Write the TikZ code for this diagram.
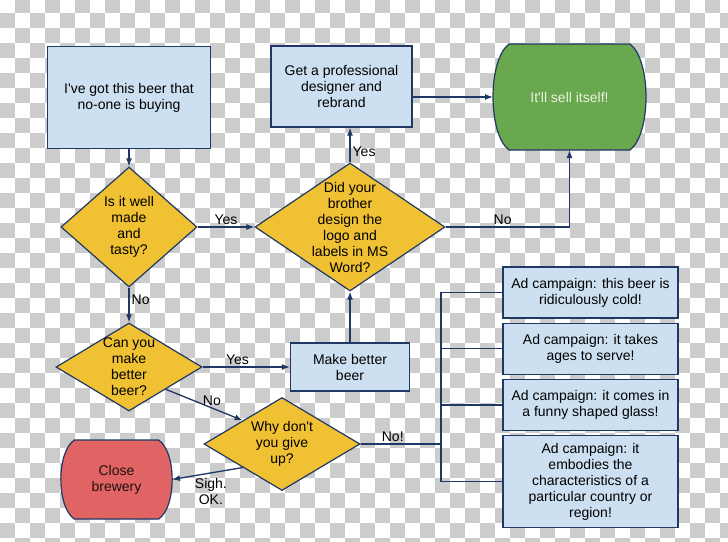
\documentclass[tikz,border=0pt]{standalone}
\usepackage{fontspec}
\setmainfont{Liberation Sans}
\usepackage{tikz}
\usetikzlibrary{arrows.meta,positioning,shapes.geometric,backgrounds}
\definecolor{navy}{RGB}{31,56,100}
\definecolor{paleblue}{RGB}{205,224,242}
\definecolor{gold}{RGB}{241,193,52}
\definecolor{leaf}{RGB}{106,168,79}
\definecolor{brick}{RGB}{224,100,100}
\definecolor{chk}{RGB}{204,204,204}

\begin{document}
\begin{tikzpicture}[x=0.75pt,y=-0.75pt,
  txt/.style={font=\fontsize{10.5}{12}\selectfont,align=center},
  box/.style={txt,draw=navy,line width=0.9pt,fill=#1,inner sep=2pt},
  box/.default=paleblue,
  term/.style={txt,inner sep=0pt,outer sep=0pt},
  pill/.style={draw=navy,line width=0.9pt,fill=#1},
  dec/.style={draw=navy,line width=0.9pt,fill=gold,diamond,inner sep=0pt},
  arr/.style={-{Latex[length=6pt,width=4.5pt]},navy,line width=1pt},
  wire/.style={navy,line width=1pt},
  lab/.style={txt,text=black,inner sep=1.5pt}]
\useasboundingbox (0,0) rectangle (728,542);
\begin{scope}[on background layer]
  \clip (0,0) rectangle (728,542);
  \fill[white] (0,0) rectangle (728,542);
  \foreach \i in {0,...,48} \foreach \j in {0,...,36} {
    \pgfmathtruncatemacro\odd{mod(\i+\j,2)}
    \ifnum\odd=1 \fill[chk] (15*\i,15*\j-1.7) rectangle ++(15,15); \fi}
\end{scope}
\node[box,minimum width=122pt,minimum height=77pt] (start) at (129,97.5) {I\textquotesingle ve got this beer that\\no-one is buying};
\node[box,minimum width=105.75pt,minimum height=60.75pt] (pro) at (341.5,86.5) {Get a professional\\designer and\\rebrand};
\node[term,text={rgb,255:red,235;green,240;blue,225},minimum width=114.75pt,minimum height=79.5pt] (sell) at (569.5,97) {It\textquotesingle ll sell itself!};
\node[dec,minimum width=102pt,minimum height=90pt,label={[txt]center:{Is it well\\made\\and\\tasty?}}] (tasty) at (129,227) {};
\node[dec,minimum width=142.5pt,minimum height=96pt,label={[txt]center:{Did your\\brother\\design the\\logo and\\labels in MS\\Word?}}] (word) at (350,227) {};
\node[dec,minimum width=109.5pt,minimum height=66pt,label={[txt]center:{Can you\\make\\better\\beer?}}] (better) at (129,367) {};
\node[box,minimum width=89.25pt,minimum height=36pt] (make) at (350,367) {Make better\\beer};
\node[dec,minimum width=117pt,minimum height=69.75pt,label={[txt]center:{Why don\textquotesingle t\\you give\\up?}}] (giveup) at (282,444) {};
\node[term,text=black!85!brick,minimum width=83.25pt,minimum height=59.25pt] (close) at (116.5,479.5) {Close\\brewery};
\node[box,minimum width=131.25pt,minimum height=38.25pt] (ad1) at (590.5,292.5) {Ad campaign: this beer is\\ridiculously cold!};
\node[box,minimum width=131.25pt,minimum height=38.25pt,below=3pt of ad1] (ad2) {Ad campaign: it takes\\ages to serve!};
\node[box,minimum width=131.25pt,minimum height=38.25pt,below=3pt of ad2] (ad3) {Ad campaign: it comes in\\a funny shaped glass!};
\node[box,minimum width=131.25pt,minimum height=69pt,below=3pt of ad3] (ad4) {Ad campaign: it\\embodies the\\characteristics of a\\particular country or\\region!};
\begin{scope}[on background layer]
  \draw[pill=leaf] ([xshift=12pt]sell.north west) -- ([xshift=-12pt]sell.north east)
    .. controls ([xshift=4pt,yshift=-12pt]sell.north east) and ([xshift=4pt,yshift=12pt]sell.south east) .. ([xshift=-12pt]sell.south east)
    -- ([xshift=12pt]sell.south west)
    .. controls ([xshift=-4pt,yshift=12pt]sell.south west) and ([xshift=-4pt,yshift=-12pt]sell.north west) .. cycle;
  \draw[pill=brick] ([xshift=10pt]close.north west) -- ([xshift=-10pt]close.north east)
    .. controls ([xshift=3.5pt,yshift=-9pt]close.north east) and ([xshift=3.5pt,yshift=9pt]close.south east) .. ([xshift=-10pt]close.south east)
    -- ([xshift=10pt]close.south west)
    .. controls ([xshift=-3.5pt,yshift=9pt]close.south west) and ([xshift=-3.5pt,yshift=-9pt]close.north west) .. cycle;
\end{scope}
\draw[arr] (start.south) -- (tasty.north);
\draw[arr] (tasty.east) -- node[lab,above]{Yes} (word.west);
\draw[arr] (word.north) -- node[lab,right,pos=.3]{Yes} (word.north |- pro.south);
\draw[arr] (pro.east |- sell.west) -- (sell.west);
\draw[arr] (word.east) -| node[lab,above,pos=.23]{No} (sell.south);
\draw[arr] (tasty.south) -- node[lab,right,pos=.35]{No} (better.north);
\draw[arr] (better.east) -- node[lab,above,pos=.4]{Yes} (make.west);
\draw[arr] (make.north) -- (word.south);
\draw[arr] (better.south east) -- node[lab,above,pos=.6]{No} (giveup.north west);
\coordinate (bus) at (441,444);
\draw[wire] (giveup.east) -- node[lab,above,pos=.4]{No!} (bus);
\draw[wire] (ad1.west) -| (bus) |- (ad4.west);
\draw[wire] (ad2.west) -- (ad2.west -| bus);
\draw[wire] (ad3.west) -- (ad3.west -| bus);
\draw[arr] (giveup.south west) -- node[lab,below=2pt,pos=.45]{Sigh.\\OK.} (close.east);
\end{tikzpicture}
\end{document}
